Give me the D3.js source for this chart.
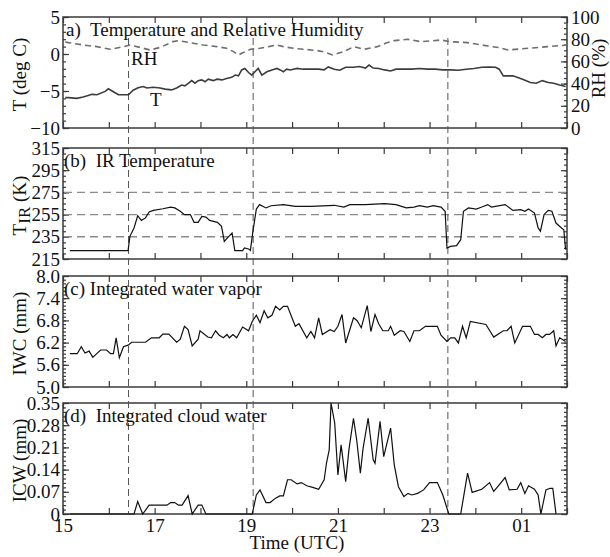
<!DOCTYPE html>
<html>
<head>
<meta charset="utf-8">
<script src="https://cdn.jsdelivr.net/npm/d3@7"></script>
<style>
  body { margin: 0; background: #fff; }
  svg text { font-family: "Liberation Serif", "Times New Roman", serif; }
</style>
</head>
<body>
<svg id="chart" width="610" height="557"></svg>
<script>
// ---- time axis: hours UTC, running past midnight as 24, 25, 26 ----
const timeDomain = [15, 26];
const hourTicks = [15, 16, 17, 18, 19, 20, 21, 22, 23, 24, 25, 26];
const hourLabels = [15, 17, 19, 21, 23, 25];
const eventHours = [16.43, 19.15, 23.4];

// ---- (a) air temperature (deg C) ----
const tempHours = [15.05,15.12,15.30,15.44,15.55,15.63,15.74,15.92,15.99,16.10,16.21,16.43,16.53,16.64,16.75,16.83,16.97,17.12,17.23,17.37,17.48,17.59,17.66,17.74,17.81,17.88,17.95,18.03,18.10,18.17,18.28,18.36,18.47,18.57,18.68,18.76,18.83,18.90,18.97,19.05,19.12,19.19,19.26,19.34,19.45,19.56,19.67,19.74,19.81,19.88,19.96,20.11,20.24,20.41,20.58,20.70,20.79,20.92,21.04,21.17,21.34,21.47,21.60,21.68,21.77,21.89,22.02,22.15,22.27,22.44,22.61,22.78,22.95,23.12,23.29,23.46,23.63,23.80,23.97,24.14,24.31,24.44,24.52,24.61,24.82,25.03,25.20,25.33,25.46,25.59,25.71,25.84,25.97];
const tempC = [-5.9,-5.9,-6.0,-5.8,-5.6,-5.45,-5.5,-5.05,-4.7,-5.1,-5.5,-5.5,-4.9,-4.55,-4.4,-4.6,-4.5,-4.6,-4.75,-4.85,-4.6,-4.2,-4.3,-3.95,-3.6,-3.95,-3.6,-3.5,-3.75,-3.4,-3.6,-3.4,-3.5,-3.3,-3.15,-2.85,-2.95,-2.15,-1.95,-2.5,-2.85,-2.4,-1.95,-2.85,-2.4,-2.15,-1.95,-2.15,-2.4,-2.05,-2.15,-1.95,-2.05,-2.05,-2.05,-2.15,-1.75,-2.05,-2.2,-1.8,-1.8,-1.7,-1.9,-1.5,-1.9,-1.95,-2.15,-2.3,-2.05,-2.05,-2.05,-1.95,-2.05,-2.05,-2.15,-2.15,-2.2,-2.05,-1.95,-1.8,-1.75,-1.8,-2.05,-2.95,-2.95,-3.4,-3.85,-3.95,-3.6,-3.85,-3.95,-4.2,-4.4];

// ---- (a) relative humidity (%) ----
const rhHours = [15.05,15.12,15.44,15.74,16.03,16.32,16.46,16.68,16.90,17.12,17.40,17.52,17.77,18.06,18.36,18.57,18.72,18.83,18.90,19.09,19.30,19.49,19.67,19.81,20.03,20.25,20.54,20.70,20.88,21.13,21.35,21.57,21.86,22.05,22.23,22.52,22.81,23.05,23.25,23.43,23.83,24.27,24.50,24.71,25.15,25.58,25.85,26.00];
const rhPct = [77.5,76.9,74.8,73.3,70.9,73.3,74.8,72.6,70.3,72.6,77.8,78.7,76.9,74.8,73.3,71.8,68.8,65.8,67.3,70.9,71.8,73.3,74.8,73.3,71.8,70.9,69.8,68.5,65.8,68.8,73.3,70.9,73.3,76.5,78.7,79.9,77.8,78.5,79.3,77.8,76.9,73.9,72.5,70.3,71.8,73.3,74.2,74.8];

// ---- (b) infrared brightness temperature (K) ----
const irHours = [15.15,16.42,16.46,16.55,16.63,16.71,16.80,16.88,16.97,17.18,17.35,17.44,17.56,17.65,17.78,17.86,17.95,18.03,18.12,18.20,18.37,18.46,18.52,18.62,18.69,18.75,18.92,18.96,19.05,19.09,19.15,19.22,19.29,19.43,19.54,19.81,20.07,20.41,20.92,21.13,21.26,21.60,22.02,22.27,22.49,22.66,22.78,22.95,23.08,23.25,23.34,23.38,23.46,23.59,23.68,23.74,23.85,24.02,24.14,24.27,24.35,24.65,24.82,24.99,25.08,25.16,25.29,25.37,25.42,25.50,25.59,25.67,25.76,25.88,25.93,25.97];
const irK = [222.5,222.5,235.4,243,254,249.8,252,257.3,258.8,260.3,261.8,261,258,255,255,248,248,253.4,252.8,249.8,248,244.4,230.9,235.4,238.4,222.5,222.5,224.9,224,222.8,241.4,260,264,261,263,264,262.4,262.4,263.4,261.8,264,264,264.8,264,261,261.8,263,261.8,263,261.8,258,224.9,226.4,227,232.4,258,261,260,261.8,264,261.8,264,258.8,259.4,258,260,256.4,243,240,255,258.8,258,247.4,243,241.4,223.4];

// ---- (c) integrated water vapour (mm) ----
const iwvHours = [15.15,15.31,15.40,15.48,15.57,15.65,15.82,15.95,16.04,16.10,16.16,16.23,16.32,16.42,16.50,16.80,16.93,17.10,17.18,17.31,17.48,17.56,17.65,17.73,17.82,17.95,17.99,18.16,18.24,18.33,18.41,18.50,18.58,18.63,18.71,18.79,18.92,19.05,19.13,19.22,19.30,19.39,19.47,19.56,19.64,19.73,19.81,19.90,20.07,20.15,20.32,20.41,20.49,20.58,20.66,20.83,20.92,21.00,21.09,21.17,21.34,21.42,21.51,21.64,21.72,21.81,21.89,21.98,22.10,22.15,22.23,22.36,22.44,22.57,22.66,22.78,22.91,23.17,23.25,23.38,23.46,23.55,23.63,23.72,23.80,23.89,24.23,24.40,24.61,24.69,24.78,24.86,25.03,25.20,25.29,25.37,25.46,25.54,25.62,25.71,25.76,25.84,25.97];
const iwvMm = [5.9,5.9,6.09,5.92,5.97,5.8,6.0,6.0,5.9,5.9,6.33,5.79,6.09,6.13,6.21,6.21,6.33,6.33,6.43,6.43,6.21,6.29,6.64,6.55,6.11,6.29,6.52,6.35,6.33,6.52,6.40,6.33,6.42,6.33,6.42,6.33,6.62,6.52,6.77,6.94,6.74,7.06,6.87,6.94,7.18,7.08,7.18,7.18,6.64,6.71,6.33,6.50,6.33,6.87,6.42,6.55,6.50,6.64,6.96,6.19,6.87,6.79,6.60,7.20,6.50,6.96,6.71,6.52,6.52,6.64,6.40,6.52,6.50,6.23,6.52,6.52,6.64,6.64,6.40,6.23,6.33,6.33,6.19,6.64,6.33,6.77,6.69,6.35,6.52,6.52,6.64,6.19,6.64,6.64,6.42,6.42,6.33,6.42,6.42,6.52,6.11,6.33,6.23];

// ---- (d) integrated cloud liquid water (mm) ----
const icwHours = [15.15,16.55,16.63,16.74,16.88,17.27,17.35,17.44,17.52,17.60,17.73,17.82,17.95,18.03,18.12,19.13,19.22,19.30,19.43,19.52,19.64,19.73,19.81,19.90,19.98,20.11,20.20,20.32,20.45,20.58,20.70,20.75,20.81,20.85,20.93,21.00,21.07,21.17,21.24,21.34,21.41,21.49,21.55,21.66,21.77,21.81,21.92,22.00,22.15,22.23,22.32,22.44,22.53,22.61,22.74,22.87,23.00,23.17,23.29,23.42,23.68,23.83,23.93,24.14,24.31,24.40,24.52,24.65,24.74,24.91,24.99,25.08,25.16,25.29,25.37,25.43,25.54,25.63,25.69,25.76];
const icwMm = [0,0,0.039,0,0.028,0.028,0.036,0.036,0.028,0.028,0.058,0,0.028,0.028,0,0,0.06,0.076,0.036,0.036,0.05,0.057,0.057,0.108,0.108,0.095,0.099,0.089,0.084,0.078,0.108,0.16,0.202,0.35,0.287,0.123,0.218,0.102,0.202,0.302,0.234,0.129,0.208,0.302,0.171,0.16,0.292,0.181,0.271,0.155,0.086,0.055,0.065,0.06,0.065,0.076,0.099,0.099,0.06,0,0,0.129,0.068,0.078,0.099,0.071,0.092,0.115,0.076,0.078,0.099,0.065,0.089,0.078,0.06,0,0.076,0.081,0.081,0];

// ---- tick labels for each vertical axis ----
const tempTicks = [-10, -5, 0, 5];
const rhTicks = [0, 20, 40, 60, 80, 100];
const irTicks = [215, 235, 255, 275, 295, 315];
const irGrid = [235, 255, 275];
const iwvTicks = [5.0, 5.6, 6.2, 6.8, 7.4, 8.0];
const icwTicks = [0, 0.07, 0.14, 0.21, 0.28, 0.35];

// ---- layout ----
const plotLeft = 63, plotRight = 567;
const panelBounds = [[17, 128], [148, 259], [276, 387], [403, 514]];
const fontFamily = '"Liberation Serif", "Times New Roman", serif';
const frameColor = "#3a3a3a";

const svg = d3.select("#chart");
const x = d3.scaleLinear().domain(timeDomain).range([plotLeft, plotRight]);

const pairs = (hs, vs) => hs.map((h, i) => [h, vs[i]]);

const panels = [
  { title: "a)  Temperature and Relative Humidity", domain: [-10, 5], ticks: tempTicks, minorStep: 1,
    fmt: d3.format("d"), ylabel: "T (deg C)" },
  { title: "(b)  IR Temperature", domain: [215, 315], ticks: irTicks, minorStep: 5,
    fmt: d3.format("d"), ylabel: null },
  { title: "(c) Integrated water vapor", domain: [5.0, 8.0], ticks: iwvTicks, minorStep: 0.1,
    fmt: d3.format(".1f"), ylabel: "IWC (mm)" },
  { title: "(d)  Integrated cloud water", domain: [0, 0.35], ticks: icwTicks, minorStep: 0.014,
    fmt: d => d === 0 ? "0" : d3.format(".2f")(d), ylabel: "ICW (mm)" }
];

function minorValues(domain, step) {
  const out = [];
  const n = Math.round((domain[1] - domain[0]) / step);
  for (let k = 0; k <= n; k++) out.push(domain[0] + k * step);
  return out;
}

function styleAxis(sel) {
  sel.select(".domain").remove();
  sel.attr("font-size", 19).attr("font-family", fontFamily).attr("color", frameColor);
  sel.selectAll("line").attr("stroke-width", 1.2);
  sel.selectAll("text").attr("fill", "#111");
}

const scales = [];

panels.forEach((p, i) => {
  const [top, bottom] = panelBounds[i];
  const y = d3.scaleLinear().domain(p.domain).range([bottom, top]);
  scales.push(y);
  const g = svg.append("g");

  // left axis: minor then major ticks, pointing inward
  g.append("g").attr("transform", `translate(${plotLeft},0)`)
    .call(d3.axisLeft(y).tickValues(minorValues(p.domain, p.minorStep)).tickSize(-3).tickFormat(""))
    .call(styleAxis);
  g.append("g").attr("transform", `translate(${plotLeft},0)`)
    .call(d3.axisLeft(y).tickValues(p.ticks).tickSize(-6).tickPadding(3).tickFormat(p.fmt))
    .call(styleAxis);

  // right axis (mirrored ticks; panel a carries its own RH scale)
  if (i !== 0) {
    g.append("g").attr("transform", `translate(${plotRight},0)`)
      .call(d3.axisRight(y).tickValues(minorValues(p.domain, p.minorStep)).tickSize(-3).tickFormat(""))
      .call(styleAxis);
    g.append("g").attr("transform", `translate(${plotRight},0)`)
      .call(d3.axisRight(y).tickValues(p.ticks).tickSize(-6).tickFormat(""))
      .call(styleAxis);
  }

  // top and bottom hourly ticks
  g.append("g").attr("transform", `translate(0,${top})`)
    .call(d3.axisTop(x).tickValues(hourTicks).tickSize(-6).tickFormat(""))
    .call(styleAxis);
  g.append("g").attr("transform", `translate(0,${bottom})`)
    .call(d3.axisBottom(x).tickValues(hourTicks).tickSize(-6).tickPadding(5)
      .tickFormat(i === 3 ? (d => hourLabels.includes(d) ? String(d % 24).padStart(2, "0") : "") : ""))
    .call(styleAxis);

  // frame
  g.append("rect").attr("x", plotLeft).attr("y", top)
    .attr("width", plotRight - plotLeft).attr("height", bottom - top)
    .attr("fill", "none").attr("stroke", frameColor).attr("stroke-width", 1.5);

  // y label
  if (p.ylabel) {
    g.append("text")
      .attr("transform", `translate(26,${(top + bottom) / 2 + 2}) rotate(-90)`)
      .attr("text-anchor", "middle").attr("font-size", 19).attr("fill", "#111")
      .text(p.ylabel);
  }
});

// IR-temperature label with subscript
{
  const [top, bottom] = panelBounds[1];
  const t = svg.append("text")
    .attr("transform", `translate(26,${(top + bottom) / 2 + 2}) rotate(-90)`)
    .attr("text-anchor", "middle").attr("font-size", 19).attr("fill", "#111");
  t.append("tspan").text("T");
  t.append("tspan").attr("dy", 4).attr("font-size", 17).text("IR");
  t.append("tspan").attr("dy", -4).text(" (K)");
}

// RH axis on the right of panel a
const yRH = d3.scaleLinear().domain([0, 100]).range([panelBounds[0][1], panelBounds[0][0]]);
svg.append("g").attr("transform", `translate(${plotRight},0)`)
  .call(d3.axisRight(yRH).tickValues(minorValues([0, 100], 5)).tickSize(-3).tickFormat(""))
  .call(styleAxis);
svg.append("g").attr("transform", `translate(${plotRight},0)`)
  .call(d3.axisRight(yRH).tickValues(rhTicks).tickSize(-6).tickPadding(4).tickFormat(d3.format("d")))
  .call(styleAxis);
svg.append("text")
  .attr("transform", `translate(605,${(panelBounds[0][0] + panelBounds[0][1]) / 2 - 4}) rotate(-90)`)
  .attr("text-anchor", "middle").attr("font-size", 19).attr("fill", "#111")
  .text("RH (%)");

// reference gridlines in the IR panel
svg.append("g").selectAll("line").data(irGrid).join("line")
  .attr("x1", plotLeft + 1).attr("x2", plotRight - 1)
  .attr("y1", d => scales[1](d)).attr("y2", d => scales[1](d))
  .attr("stroke", "#8a8a8a").attr("stroke-width", 1.4).attr("stroke-dasharray", "8,5");

// event markers spanning all panels
svg.append("g").selectAll("line").data(eventHours).join("line")
  .attr("x1", d => x(d)).attr("x2", d => x(d))
  .attr("y1", 38).attr("y2", panelBounds[3][1])
  .attr("stroke", "#555").attr("stroke-width", 1).attr("stroke-dasharray", "7,4");

// data lines
const lineOf = (yScale) => d3.line().x(d => x(d[0])).y(d => yScale(d[1]));

svg.append("path").datum(pairs(rhHours, rhPct))
  .attr("d", lineOf(yRH)).attr("fill", "none")
  .attr("stroke", "#6e6e6e").attr("stroke-width", 1.6).attr("stroke-dasharray", "6,4");
svg.append("path").datum(pairs(tempHours, tempC))
  .attr("d", lineOf(scales[0])).attr("fill", "none")
  .attr("stroke", "#3c3c3c").attr("stroke-width", 1.6);
svg.append("path").datum(pairs(irHours, irK))
  .attr("d", lineOf(scales[1])).attr("fill", "none")
  .attr("stroke", "#111").attr("stroke-width", 1.2);
svg.append("path").datum(pairs(iwvHours, iwvMm))
  .attr("d", lineOf(scales[2])).attr("fill", "none")
  .attr("stroke", "#111").attr("stroke-width", 1.2);
svg.append("path").datum(pairs(icwHours, icwMm))
  .attr("d", lineOf(scales[3])).attr("fill", "none")
  .attr("stroke", "#111").attr("stroke-width", 1.2);

// panel titles
panels.forEach((p, i) => {
  svg.append("text")
    .attr("x", i === 0 ? 66 : 64).attr("y", panelBounds[i][0] + 19)
    .attr("font-size", 19).attr("fill", "#111")
    .style("white-space", "pre")
    .text(p.title);
});

// series labels in panel a
svg.append("text").attr("x", 131).attr("y", 65).attr("font-size", 19).attr("fill", "#111").text("RH");
svg.append("text").attr("x", 150).attr("y", 106).attr("font-size", 19).attr("fill", "#111").text("T");

// time axis title
svg.append("text").attr("x", 297).attr("y", 549).attr("text-anchor", "middle")
  .attr("font-size", 19).attr("fill", "#111").text("Time (UTC)");
</script>
</body>
</html>
